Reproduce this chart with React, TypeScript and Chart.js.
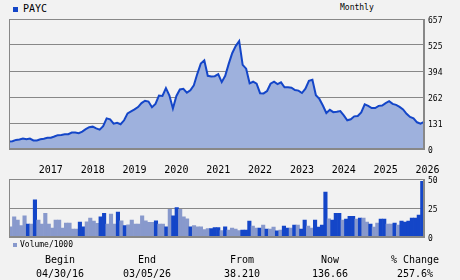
import React, { useEffect, useRef } from 'react';
import { Chart, registerables } from 'chart.js';

Chart.register(...registerables);

const ticker = 'PAYC';
const periodLabel = 'Monthly';
const volumeLabel = 'Volume/1000';
const startYear = 2016;
const startMonth = 3; // April (0-based)

const priceValues = [
  38.21, 39, 46, 48, 53, 49, 53, 43, 43, 49, 52, 57, 57, 63, 70, 71, 74, 75, 83, 83,
  80, 88, 100, 110, 113, 104, 98, 115, 155, 150, 128, 132, 125, 145, 180, 190, 200, 212, 232, 244,
  240, 211, 228, 270, 268, 308, 270, 205, 268, 301, 304, 285, 297, 322, 380, 432, 448, 370, 367, 368,
  378, 338, 370, 430, 484, 520, 545, 425, 406, 332, 340, 330, 282, 281, 293, 330, 340, 328, 337, 312,
  312, 310, 298, 295, 283, 305, 345, 350, 272, 253, 220, 182, 198, 186, 188, 192, 170, 145, 150, 165,
  167, 185, 226, 218, 207, 207, 218, 220, 232, 242, 228, 223, 213, 200, 178, 162, 155, 135, 128, 136.66,
];

const volumeValues = [
  9, 17.5, 14.7, 10, 18.4, 11.3, 11.3, 32, 14.7, 11.3, 20.6, 11.3, 7.9, 14.7, 14.7, 7.9, 12.1, 12.1, 7, 7,
  13, 9, 13.3, 16.4, 13.8, 12, 17.5, 20.6, 11.3, 19.8, 11.3, 21.5, 14, 10, 10.7, 14.7, 11.3, 11.3, 18.4, 14,
  12.7, 12.7, 14, 11.3, 11.3, 9, 24, 18.4, 25.4, 24, 17.5, 15.8, 9, 10, 9, 9, 6.5, 7.3, 7.3, 8.2,
  8.2, 5.6, 9, 6.2, 7.9, 7, 5.6, 6.2, 6.2, 13.8, 9.6, 7.9, 7.9, 10.5, 7, 7, 8.8, 5.4, 6.2, 9.6,
  7.9, 7.9, 10.5, 10.5, 7, 14.7, 9.6, 7.9, 14.7, 8.8, 10.5, 38.7, 15.8, 14.7, 20.6, 20.6, 14.7, 15.5, 18, 18,
  15.5, 16.4, 16.4, 13, 11.3, 8.8, 12.1, 15.5, 15.5, 11.3, 11.3, 12.1, 10.5, 13.8, 13, 13.8, 16.4, 16.4, 19, 48,
];

// 1 = dark bar, 0 = light bar
const volumeUp = [
  0, 0, 0, 0, 0, 1, 0, 1, 0, 0, 0, 0, 0, 0, 0, 0, 0, 0, 0, 0,
  1, 1, 0, 0, 0, 0, 1, 1, 0, 0, 0, 1, 0, 1, 0, 0, 0, 0, 0, 0,
  0, 0, 1, 0, 0, 1, 0, 1, 1, 0, 0, 0, 1, 0, 0, 0, 0, 0, 1, 1,
  1, 0, 1, 0, 0, 0, 0, 1, 1, 1, 0, 0, 1, 0, 1, 0, 0, 1, 0, 1,
  1, 0, 1, 0, 1, 1, 0, 0, 1, 1, 1, 1, 0, 1, 1, 1, 0, 1, 1, 1,
  0, 1, 0, 0, 1, 0, 0, 1, 1, 0, 0, 1, 0, 1, 1, 1, 1, 1, 1, 1,
];

const priceTicks = [0, 131.4, 262.8, 394.2, 525.6, 657];
const volumeTicks = [0, 25, 50];
const yearLabels = ['2017', '2018', '2019', '2020', '2021', '2022', '2023', '2024', '2025', '2026'];

const summaryHeads = ['Begin', 'End', 'From', 'Now', '% Change'];
const summaryValues = ['04/30/16', '03/05/26', '38.210', '136.66', '257.6%'];

const monthLabels = priceValues.map((_, i) => {
  const t = startMonth + i;
  return `${startYear + Math.floor(t / 12)}-${String((t % 12) + 1).padStart(2, '0')}`;
});

const DARK = '#1446c8';
const LIGHT = '#8899cc';
const FILL = '#9eb1dd';
const GRID = '#888888';
const MONO = '"DejaVu Sans Mono", monospace';

const framePlugin = {
  id: 'frame',
  afterDatasetsDraw(chart: any) {
    const { ctx, chartArea: a } = chart;
    ctx.save();
    ctx.strokeStyle = GRID;
    ctx.lineWidth = 1;
    ctx.strokeRect(Math.round(a.left) + 0.5, Math.round(a.top) + 0.5, Math.round(a.right - a.left) - 1, Math.round(a.bottom - a.top) - 1);
    ctx.restore();
  },
};

const yearPlugin = {
  id: 'years',
  afterDraw(chart: any) {
    const { ctx, chartArea } = chart;
    const xs = chart.scales.x;
    ctx.save();
    ctx.fillStyle = '#000';
    ctx.font = `10px ${MONO}`;
    ctx.textAlign = 'center';
    ctx.textBaseline = 'middle';
    yearLabels.forEach((y) => {
      const idx = (Number(y) - startYear) * 12;
      ctx.fillText(y, xs.getPixelForValue(idx), chartArea.bottom + 21);
    });
    ctx.restore();
  },
};

export default function App() {
  const priceRef = useRef<HTMLCanvasElement>(null);
  const volRef = useRef<HTMLCanvasElement>(null);

  useEffect(() => {
    const priceChart = new Chart(priceRef.current as HTMLCanvasElement, {
      type: 'line',
      data: {
        labels: monthLabels,
        datasets: [
          {
            data: priceValues,
            borderColor: DARK,
            backgroundColor: FILL,
            borderWidth: 2,
            fill: 'origin',
            pointRadius: 0,
            tension: 0,
          },
        ],
      },
      options: {
        responsive: false,
        animation: false,
        layout: { padding: { left: 9, top: 19, right: 0, bottom: 29 } },
        plugins: { legend: { display: false }, tooltip: { enabled: false } },
        scales: {
          x: { type: 'category', display: false, offset: false },
          y: {
            position: 'right',
            min: 0,
            max: 657,
            afterBuildTicks: (s: any) => {
              s.ticks = priceTicks.map((v) => ({ value: v }));
            },
            afterFit: (s: any) => {
              s.width = 36;
            },
            grid: { color: GRID, drawTicks: false, lineWidth: 1 },
            border: { display: true, color: GRID },
            ticks: {
              padding: 4,
              labelOffset: 2,
              color: '#000',
              font: { family: MONO, size: 8 },
              callback: (v: any) => String(Math.floor(Number(v) + 1e-6)),
            },
          },
        },
      },
      plugins: [framePlugin, yearPlugin],
    } as any);

    const volChart = new Chart(volRef.current as HTMLCanvasElement, {
      type: 'bar',
      data: {
        labels: monthLabels,
        datasets: [
          {
            data: volumeValues,
            backgroundColor: volumeUp.map((u) => (u ? DARK : LIGHT)),
            borderWidth: 0,
            barPercentage: 1,
            categoryPercentage: 1,
          },
        ],
      },
      options: {
        responsive: false,
        animation: false,
        layout: { padding: { left: 9, top: 9, right: 0, bottom: 8 } },
        plugins: { legend: { display: false }, tooltip: { enabled: false } },
        scales: {
          x: { type: 'category', display: false, offset: true },
          y: {
            position: 'right',
            min: 0,
            max: 50,
            afterBuildTicks: (s: any) => {
              s.ticks = volumeTicks.map((v) => ({ value: v }));
            },
            afterFit: (s: any) => {
              s.width = 36;
            },
            grid: { color: GRID, drawTicks: false, lineWidth: 1 },
            border: { display: true, color: GRID },
            ticks: {
              padding: 4,
              labelOffset: 2,
              color: '#000',
              font: { family: MONO, size: 8 },
              callback: (v: any) => String(v),
            },
          },
        },
      },
      plugins: [framePlugin],
    } as any);

    return () => {
      priceChart.destroy();
      volChart.destroy();
    };
  }, []);

  const colCenters = [60, 147, 242, 330, 415];

  return (
    <div
      style={{
        position: 'fixed',
        left: 0,
        top: 0,
        width: 460,
        height: 280,
        background: '#f2f2f2',
        fontFamily: MONO,
        color: '#000',
        overflow: 'hidden',
      }}
    >
      <div style={{ position: 'absolute', left: 13, top: 7, width: 5, height: 5, background: DARK }} />
      <div style={{ position: 'absolute', left: 23, top: 3, fontSize: 10, lineHeight: '12px', whiteSpace: 'nowrap' }}>{ticker}</div>
      <div style={{ position: 'absolute', left: 340, top: 3, fontSize: 8, lineHeight: '10px', whiteSpace: 'nowrap' }}>{periodLabel}</div>
      <canvas ref={priceRef} width={460} height={178} style={{ position: 'absolute', left: 0, top: 0, display: 'block' }} />
      <canvas ref={volRef} width={460} height={76} style={{ position: 'absolute', left: 0, top: 170, display: 'block' }} />
      <div style={{ position: 'absolute', left: 13, top: 243, width: 4, height: 4, background: LIGHT }} />
      <div style={{ position: 'absolute', left: 20, top: 239.5, fontSize: 8, lineHeight: '10px', whiteSpace: 'nowrap' }}>{volumeLabel}</div>
      {summaryHeads.map((h, i) => (
        <div
          key={'h' + i}
          style={{ position: 'absolute', left: colCenters[i] - 40, width: 80, top: 253.5, fontSize: 10, lineHeight: '12px', textAlign: 'center', whiteSpace: 'nowrap' }}
        >
          {h}
        </div>
      ))}
      {summaryValues.map((v, i) => (
        <div
          key={'v' + i}
          style={{ position: 'absolute', left: colCenters[i] - 40, width: 80, top: 267.8, fontSize: 10, lineHeight: '12px', textAlign: 'center', whiteSpace: 'nowrap' }}
        >
          {v}
        </div>
      ))}
    </div>
  );
}
